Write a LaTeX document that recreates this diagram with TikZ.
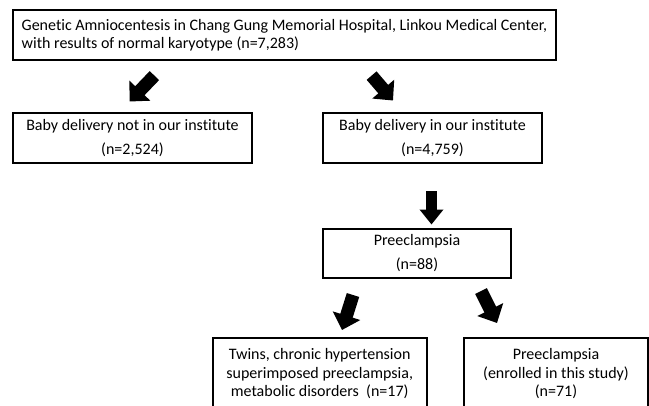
\documentclass[tikz,border=0pt]{standalone}
\usepackage{fontspec}
\setmainfont{Carlito}[Ligatures=NoCommon]
\usetikzlibrary{arrows.meta}
\begin{document}
\begin{tikzpicture}[x=1pt,y=-1pt,
  box/.style={draw=black, line width=1.6pt, inner sep=0pt, align=center,
    font=\fontsize{16}{18.5}\selectfont},
  widebox/.style={box, font=\fontsize{16}{24}\selectfont},
  blockarrow/.style={line width=13pt, -{Triangle[width=28pt,length=15pt]}},
  downarrow/.style={line width=11pt, -{Triangle[width=23pt,length=15pt]}}]
\useasboundingbox (0,0) rectangle (649,405);
\fill[white] (0,0) rectangle (649,405);

\node[box, align=left, minimum width=543.3pt, minimum height=50pt] (top) at (284.4,35)
  {Genetic Amniocentesis in Chang Gung Memorial Hospital, Linkou Medical Center,\\with results of normal karyotype (n=7,283)};

\node[widebox, minimum width=239pt, minimum height=50pt] (notin) at (132.5,138)
  {Baby delivery not in our institute\\(n=2,524)};
\node[widebox, minimum width=219pt, minimum height=50pt] (inst) at (432.5,138)
  {Baby delivery in our institute\\(n=4,759)};
\node[widebox, minimum width=188pt, minimum height=49pt] (pre) at (417,253.5)
  {Preeclampsia\\(n=88)};
\node[box, minimum width=214pt, minimum height=72pt] (excl) at (319.7,374)
  {Twins, chronic hypertension\\superimposed preeclampsia,\\metabolic disorders~~(n=17)};
\node[box, minimum width=184pt, minimum height=72pt] (enr) at (556,374)
  {Preeclampsia\\(enrolled in this study)\\(n=71)};

\coordinate (a1s) at (154.4,75.6);
\coordinate (a1e) at (129.5,101.5);
\coordinate (a2s) at (371.6,75.6);
\coordinate (a2e) at (393,100.5);
\coordinate (a3s) at (431.5,191);
\coordinate (a3e) at (431.5,224.5);
\coordinate (a4s) at (353,295);
\coordinate (a4e) at (342,330);
\coordinate (a5s) at (481,291);
\coordinate (a5e) at (497,323);

\draw[blockarrow] (a1s) -- (a1e);
\draw[blockarrow] (a2s) -- (a2e);
\draw[downarrow] (a3s) -- (a3e);
\draw[blockarrow] (a4s) -- (a4e);
\draw[blockarrow] (a5s) -- (a5e);
\end{tikzpicture}
\end{document}
